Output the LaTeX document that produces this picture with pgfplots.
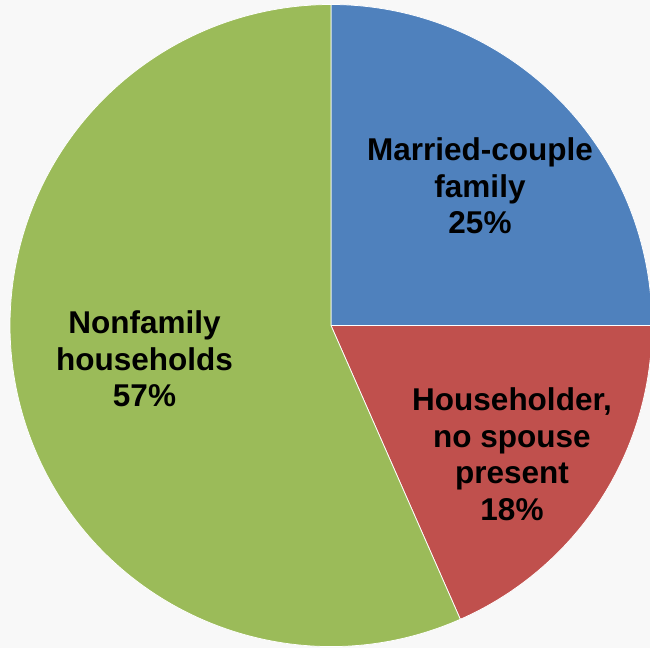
\documentclass[border=0pt]{standalone}
\usepackage{fontspec}
\setmainfont{Liberation Sans}
\usepackage{pgfplots}
\usepackage{pgfplotstable}
\pgfplotsset{compat=1.18}
\definecolor{cblue}{HTML}{4F81BD}
\definecolor{cred}{HTML}{C0504D}
\definecolor{cgreen}{HTML}{9BBB59}
\definecolor{cbg}{HTML}{F8F8F8}
\pgfplotstableread{
idx value
0 25.0
1 18.4
2 56.6
}\piedata
\begin{document}
\begin{tikzpicture}
\pgfplotstablegetelem{0}{value}\of\piedata \let\va\pgfplotsretval
\pgfplotstablegetelem{1}{value}\of\piedata \let\vb\pgfplotsretval
\pgfplotstablegetelem{2}{value}\of\piedata \let\vc\pgfplotsretval
\pgfmathsetmacro{\aA}{90}
\pgfmathsetmacro{\aB}{90-3.6*\va}
\pgfmathsetmacro{\aC}{\aB-3.6*\vb}
\pgfmathsetmacro{\aD}{\aC-3.6*\vc}
\newcommand{\pct}[1]{\pgfmathprintnumber[fixed,precision=0,assume math mode=true]{#1}\%}
\begin{axis}[
  width=650bp, height=648bp, scale only axis,
  xmin=0, xmax=650, ymin=0, ymax=648,
  hide axis, clip=true,
]
\fill[cbg] (axis cs:0,0) rectangle (axis cs:650,648);
\filldraw[fill=cblue, draw=white, line width=0.75bp, line join=round] (axis cs:331,322.5) -- ++(\aA:321bp) arc[start angle=\aA, end angle=\aB, radius=321bp] -- cycle;
\filldraw[fill=cred, draw=white, line width=0.75bp, line join=round] (axis cs:331,322.5) -- ++(\aB:321bp) arc[start angle=\aB, end angle=\aC, radius=321bp] -- cycle;
\filldraw[fill=cgreen, draw=white, line width=0.75bp, line join=round] (axis cs:331,322.5) -- ++(\aC:321bp) arc[start angle=\aC, end angle=\aD, radius=321bp] -- cycle;
\begin{scope}[every node/.style={align=center, font=\fontsize{31.5bp}{36.5bp}\selectfont\bfseries, inner sep=0pt}]
\node at (axis cs:480,462) {Married-couple\\family\\\pct{\va}};
\node at (axis cs:512,194) {Householder,\\no spouse\\present\\\pct{\vb}};
\node at (axis cs:144.5,289) {Nonfamily\\households\\\pct{\vc}};
\end{scope}
\end{axis}
\end{tikzpicture}
\end{document}
